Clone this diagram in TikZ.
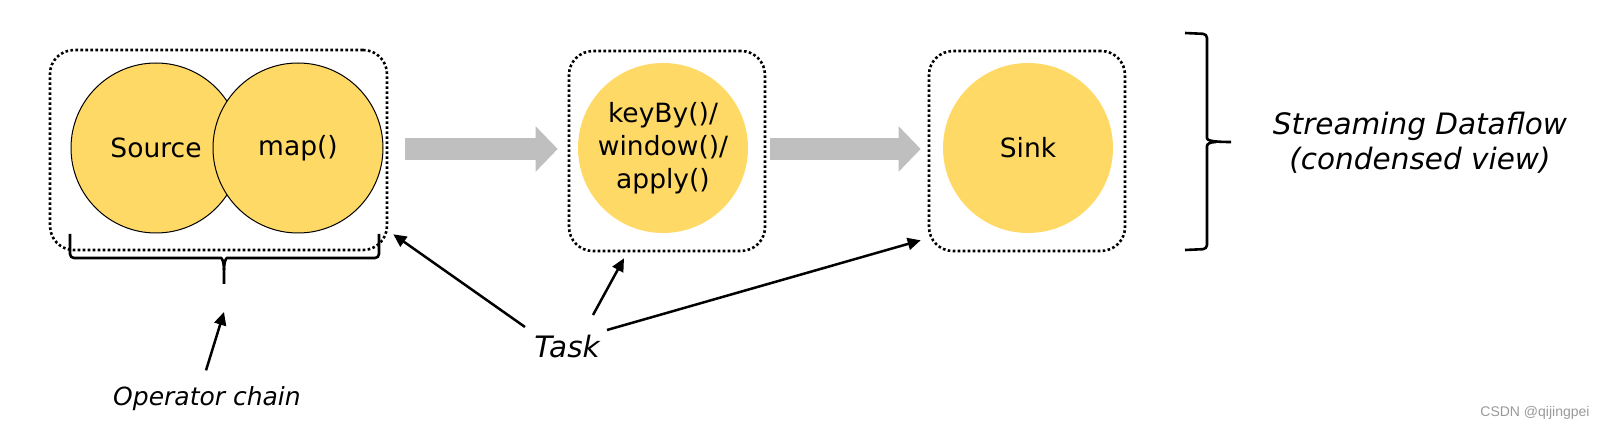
\documentclass[tikz,border=0pt]{standalone}
\usepackage{fontspec}
\setmainfont{DejaVu Sans}
\newfontfamily\wmfont{Liberation Sans}
\usetikzlibrary{arrows.meta,calc}
\definecolor{opyellow}{HTML}{FFD966}
\definecolor{flowgray}{HTML}{BFBFBF}
\begin{document}
\begin{tikzpicture}[x=1pt,y=-1pt,
  op/.style={circle,fill=opyellow,minimum size=170pt,inner sep=0pt,font=\fontsize{26.5}{33}\selectfont,align=center},
  opline/.style={op,draw=black,line width=1pt},
  taskbox/.style={draw=black,line width=2.6pt,dash pattern=on 2.6pt off 2.4pt,rounded corners=24pt,minimum height=200pt,inner sep=0pt},
  flow/.style={draw=flowgray,line width=22pt,-{Triangle[length=22pt,width=44pt]}},
  pointer/.style={draw=black,line width=2.5pt,-{Triangle[length=13pt,width=12pt]}},
  bracestroke/.style={draw=black,line width=2.6pt},
  lbl/.style={font=\itshape\fontsize{25}{30}\selectfont},
  biglbl/.style={font=\itshape\fontsize{29.5}{35}\selectfont,align=center}
]
\useasboundingbox (0,0) rectangle (1604,430);

% task boxes
\node[taskbox,minimum width=337pt] (lbox) at (218.5,150) {};
\node[taskbox,minimum width=196pt] (mbox) at (667,151) {};
\node[taskbox,minimum width=196pt] (sbox) at (1027,151) {};

% operators
\node[opline] (src) at (156,148) {Source};
\node[opline] (map) at (298,148) {map()};
\node[op] (kwa) at (663,148) {keyBy()/\\window()/\\apply()};
\node[op] (sink) at (1028,148) {Sink};

% data flow arrows
\draw[flow] ($(lbox.east)+(17,-1)$) -- ($(mbox.west)+(-10,-2)$);
\draw[flow] ($(mbox.east)+(4,-2)$) -- ($(sbox.west)+(-7,-2)$);

% operator chain brace
\coordinate (optip) at (224,284);
\draw[bracestroke] (70,234) [rounded corners=4pt] -- (70,258) -- (217,258) [sharp corners] .. controls (222,258) and (224,262) .. (224,270) -- (optip);
\draw[bracestroke] (379,234) [rounded corners=4pt] -- (379,258) -- (231,258) [sharp corners] .. controls (226,258) and (224,262) .. (224,270);

% streaming dataflow brace
\coordinate (sdtip) at (1231,142);
\draw[bracestroke] (1185,33) [rounded corners=4pt] -- (1207,34) -- (1207,134) [sharp corners] .. controls (1207,140) and (1210,142) .. (sdtip);
\draw[bracestroke] (1185,250) [rounded corners=4pt] -- (1207,249) -- (1207,150) [sharp corners] .. controls (1207,144) and (1210,142) .. (1216,142);

% labels
\node[lbl] (opchain) at (207,399) {Operator chain};
\node[biglbl] (task) at (567,347) {Task};
\node[biglbl] (sdf) at (1420,143) {Streaming Dataflow\\(condensed view)};
\node[font=\wmfont\fontsize{14}{16}\selectfont,text=black!40] (wm) at (1535,413) {CSDN @qijingpei};

% pointers
\draw[pointer] ($(opchain.north)+(-1,-13)$) -- ($(optip)+(0,28)$);
\draw[pointer] ($(task.center)+(-42,-20)$) -- ($(lbox.south east)+(5,-17)$);
\draw[pointer] ($(task.center)+(26,-32)$) -- ($(mbox.south)+(-43,6)$);
\draw[pointer] ($(task.center)+(40,-17)$) -- ($(sbox.south west)+(-7,-12)$);
\end{tikzpicture}
\end{document}
